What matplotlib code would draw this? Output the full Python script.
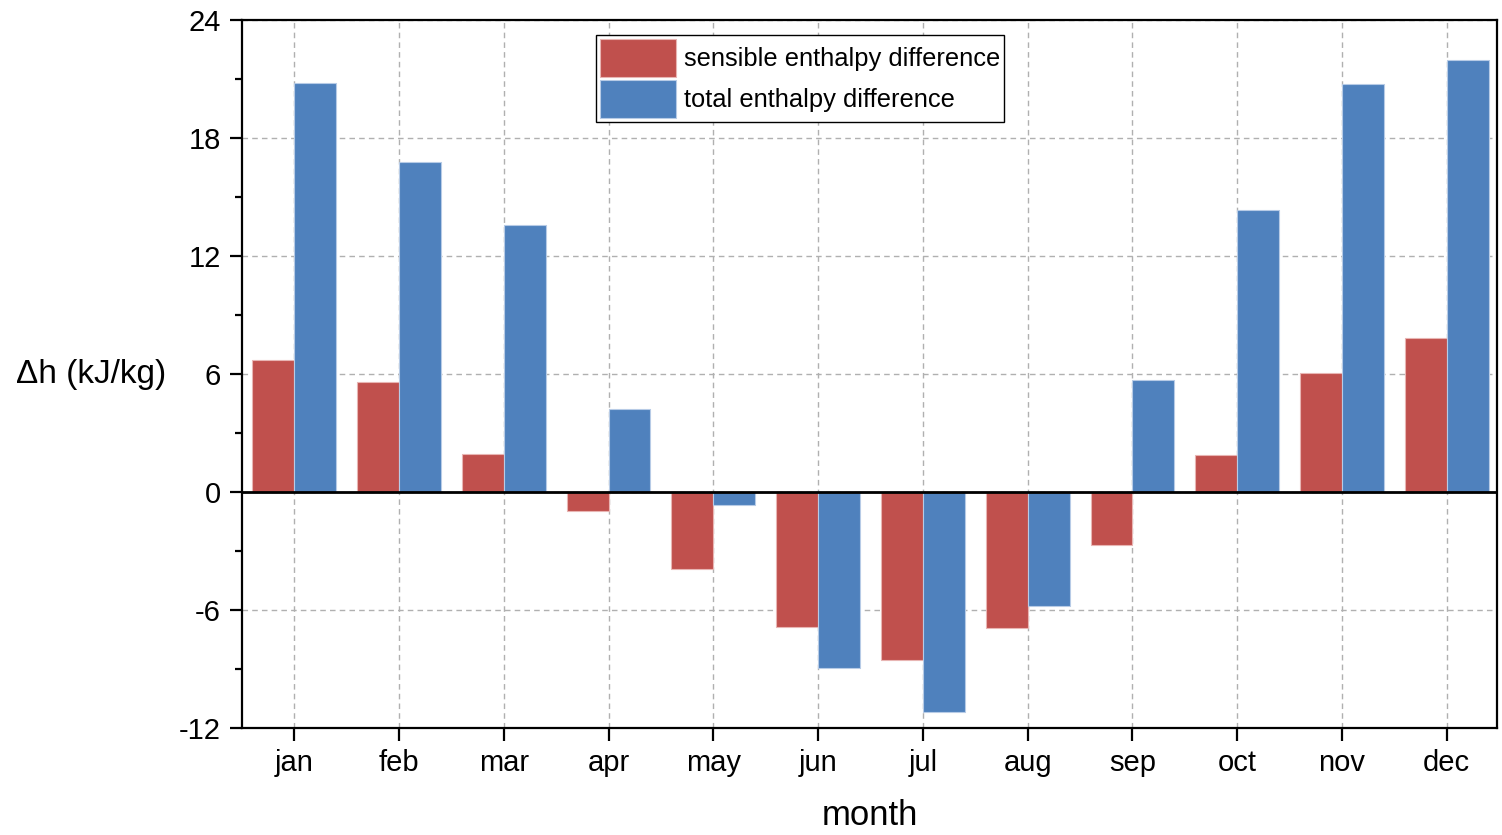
import numpy as np
import matplotlib.pyplot as plt
from matplotlib.ticker import MultipleLocator

plt.rcParams['font.family'] = ['Liberation Sans', 'DejaVu Sans']
plt.rcParams['axes.unicode_minus'] = False

# monthly enthalpy differences (kJ/kg)
months = ['jan', 'feb', 'mar', 'apr', 'may', 'jun', 'jul', 'aug', 'sep', 'oct', 'nov', 'dec']
sensible = [6.7, 5.6, 1.95, -0.95, -3.9, -6.85, -8.55, -6.9, -2.7, 1.9, 6.05, 7.85]
total = [20.8, 16.8, 13.6, 4.2, -0.65, -8.95, -11.2, -5.8, 5.7, 14.35, 20.75, 21.95]

red = '#C0504D'
blue = '#4F81BD'

fig = plt.figure(figsize=(15.02, 8.35), dpi=100)
ax = fig.add_axes([0.161, 0.128, 0.8357, 0.848])

x = np.arange(len(months))
w = 0.4
ax.bar(x - w / 2, sensible, w, color=red, edgecolor='#e8b5b3', linewidth=0.8,
       label='sensible enthalpy difference', zorder=3)
ax.bar(x + w / 2, total, w, color=blue, edgecolor='#b7cbe6', linewidth=0.8,
       label='total enthalpy difference', zorder=3)
ax.axhline(0, color='black', linewidth=2, zorder=4)

ax.set_xlim(-0.5, 11.48)
ax.set_ylim(-12, 24)
ax.set_xticks(x)
ax.set_xticklabels(months)
ax.yaxis.set_major_locator(MultipleLocator(6))
ax.yaxis.set_minor_locator(MultipleLocator(3))

ax.grid(True, which='major', linestyle=(0, (4, 3)), color='#b0b0b0', linewidth=1, zorder=0)
ax.set_axisbelow(True)

for s in ax.spines.values():
    s.set_linewidth(1.6)
ax.tick_params(axis='both', which='major', direction='out', length=9, width=1.6,
               labelsize=21, pad=6)
ax.tick_params(axis='y', which='minor', direction='out', length=5, width=1.6)
ax.tick_params(top=False, right=False)

ax.set_xlabel('month', fontsize=25, labelpad=16)
ax.set_ylabel('\u0394h (kJ/kg)', fontsize=24, rotation=0, va='center')
ax.yaxis.set_label_coords(-0.12, 0.5)

leg = ax.legend(loc='upper left', bbox_to_anchor=(0.282, 0.979), fontsize=18.4,
                handlelength=3.0, handleheight=1.9, labelspacing=0.15,
                handletextpad=0.3, borderpad=0.15, borderaxespad=0,
                fancybox=False, framealpha=1, edgecolor='black')
leg.get_frame().set_linewidth(1.0)

plt.savefig('out.png', dpi=100)
